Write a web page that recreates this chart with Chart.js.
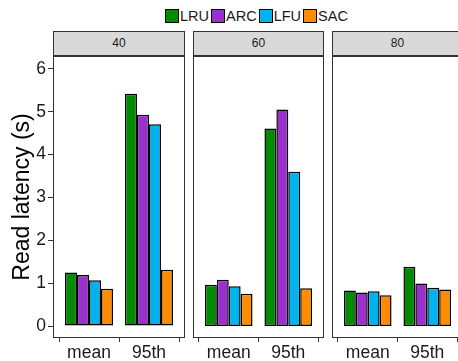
<!DOCTYPE html>
<html>
<head>
<meta charset="utf-8">
<script src="https://cdn.jsdelivr.net/npm/chart.js@4"></script>
<style>
  html, body { margin: 0; padding: 0; background: #fff; }
  body { width: 458px; height: 361px; overflow: hidden; position: relative;
         font-family: "Liberation Sans", Arial, sans-serif; }
  .legend { position: absolute; top: 9px; left: 165px; display: flex; align-items: center;
            font-size: 14.5px; color: #1a1a1a; line-height: 14px; }
  .legend .item { display: flex; align-items: center; margin-right: 2px; }
  .legend .box { width: 12px; height: 12px; border: 1px solid #000; margin-right: 1px; }
  .strip { position: absolute; top: 31px; height: 25px; background: #d9d9d9;
           border: 1px solid #333; box-sizing: border-box; text-align: center;
           font-size: 12px; line-height: 23px; color: #1a1a1a; }
  .panel { position: absolute; top: 54px; height: 307px; }
</style>
</head>
<body>
<div class="legend" id="legend"></div>

<script>
const series = ['LRU', 'ARC', 'LFU', 'SAC'];
const colors = ['#008b00', '#9932cc', '#00b2ee', '#ff8c00'];
const metrics = ['mean', '95th'];
const facets = ['40', '60', '80'];

// values per facet, [mean, 95th]
const lru40 = [1.25, 5.42], arc40 = [1.19, 4.93], lfu40 = [1.07, 4.71], sac40 = [0.87, 1.31];
const lru60 = [0.96, 4.61], arc60 = [1.08, 5.05], lfu60 = [0.93, 3.60], sac60 = [0.75, 0.88];
const lru80 = [0.83, 1.38], arc80 = [0.78, 0.99], lfu80 = [0.81, 0.89], sac80 = [0.72, 0.85];
const facetData = [
  [lru40, arc40, lfu40, sac40],
  [lru60, arc60, lfu60, sac60],
  [lru80, arc80, lfu80, sac80]
];

// legend
const legend = document.getElementById('legend');
series.forEach((s, i) => {
  const item = document.createElement('div');
  item.className = 'item';
  item.innerHTML = `<div class="box" style="background:${colors[i]}"></div><span>${s}</span>`;
  legend.appendChild(item);
});

const panelBox = {
  id: 'panelBox',
  afterDraw(chart) {
    const { ctx, chartArea: a } = chart;
    ctx.save();
    ctx.strokeStyle = '#333';
    ctx.lineWidth = 1;
    ctx.strokeRect(Math.round(a.left) + 0.5, Math.round(a.top) + 0.5,
                   Math.round(a.right - a.left) - 1, Math.round(a.bottom - a.top) - 1);
    ctx.restore();
  }
};

// panel geometry: [plot left, plot width]
const panels = [[53, 132], [193, 131], [332, 131]];

facets.forEach((f, p) => {
  const [pl, pw] = panels[p];
  const strip = document.createElement('div');
  strip.className = 'strip';
  strip.style.left = pl + 'px';
  strip.style.width = pw + 'px';
  strip.textContent = f;
  document.body.appendChild(strip);

  const first = p === 0;
  const div = document.createElement('div');
  div.className = 'panel';
  const left = first ? 0 : pl - 2;
  const width = first ? pl + pw + 2 : pw + 4;
  div.style.left = left + 'px';
  div.style.width = width + 'px';
  div.innerHTML = '<canvas></canvas>';
  document.body.appendChild(div);

  new Chart(div.querySelector('canvas'), {
    type: 'bar',
    data: {
      datasets: series.map((s, i) => ({
        label: s,
        data: facetData[p][i].map((v, k) => ({ x: k + 1, y: v })),
        backgroundColor: colors[i],
        borderColor: '#000',
        borderWidth: 1.5,
        borderSkipped: false
      }))
    },
    options: {
      responsive: true,
      maintainAspectRatio: false,
      animation: false,
      layout: { padding: { top: 2, right: 2, left: first ? 0 : 2, bottom: 0 } },
      categoryPercentage: 0.8,
      barPercentage: 1,
      plugins: { legend: { display: false }, tooltip: { enabled: false } },
      scales: {
        x: {
          type: 'linear',
          min: 0.4,
          max: 2.6,
          offset: false,
          afterBuildTicks: s => { s.ticks = metrics.map((m, k) => ({ value: k + 1 })); },
          afterFit: s => { s.height = 23; s.paddingLeft = 0; s.paddingRight = 0; },
          border: { display: false },
          grid: { display: true, drawOnChartArea: false, drawTicks: true, tickLength: 4, color: '#333' },
          ticks: {
            callback: v => metrics[Math.round(v) - 1],
            padding: 1,
            color: '#1a1a1a',
            font: { family: 'Liberation Sans', size: 17.5 },
            maxRotation: 0
          }
        },
        y: {
          display: first,
          min: -0.28,
          max: 6.3,
          afterBuildTicks: s => { s.ticks = [0, 1, 2, 3, 4, 5, 6].map(v => ({ value: v })); },
          afterFit: s => {
            if (first) s.width = 53;
            s.paddingTop = 0;
            s.paddingBottom = 0;
          },
          border: { display: false },
          grid: { display: true, drawOnChartArea: false, drawTicks: true, tickLength: 5, color: '#333' },
          ticks: {
            padding: 2,
            color: '#1a1a1a',
            font: { family: 'Liberation Sans', size: 17.5 }
          },
          title: {
            display: true,
            text: 'Read latency (s)',
            color: '#000',
            font: { family: 'Liberation Sans', size: 23 },
            padding: { top: 9, bottom: 0 }
          }
        }
      }
    },
    plugins: [panelBox]
  });
});
</script>
</body>
</html>
